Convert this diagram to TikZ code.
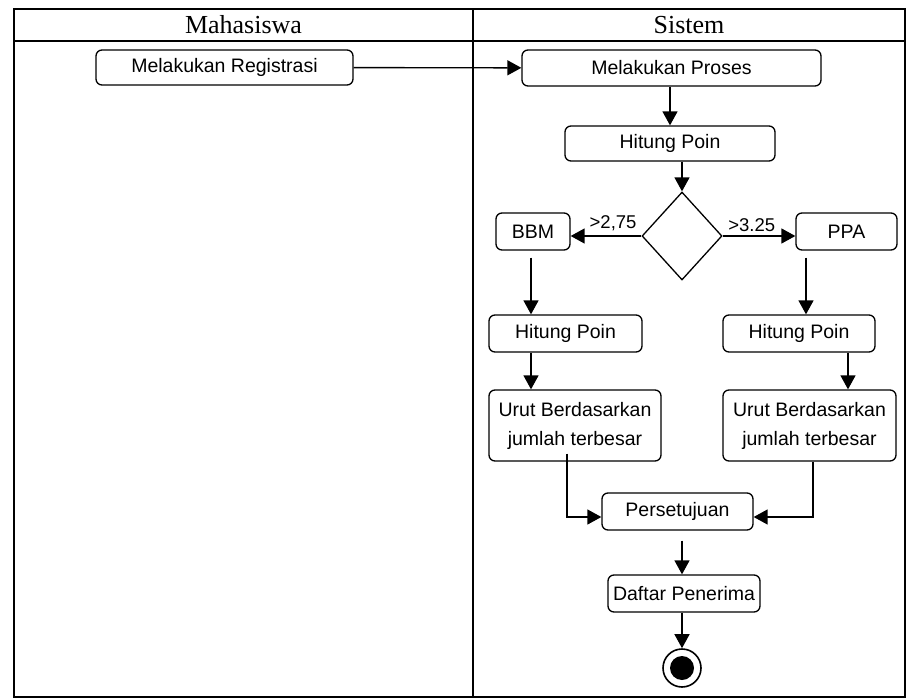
\documentclass[tikz,border=0pt]{standalone}
\usepackage{fontspec}
\setmainfont{Liberation Serif}
\newfontfamily\boxfont{Liberation Sans}
\usetikzlibrary{
    arrows.meta,
    shapes.geometric,
    calc,
    positioning
}

\begin{document}
\begin{tikzpicture}[x=1pt, y=-1pt,
    act/.style={draw, rounded corners=6pt, line width=1.3pt, inner sep=0pt, align=center,
        font=\boxfont\fontsize{19.5}{29}\selectfont},
    dec/.style={draw, diamond, line width=1.3pt, minimum width=80pt, minimum height=88pt, inner sep=0pt},
    endstate/.style={draw, circle, line width=1.6pt, minimum size=38pt, inner sep=0pt,
        path picture={\fill (path picture bounding box.center) circle (12pt);}},
    arr/.style={line width=1.4pt, -{Triangle[length=14pt, width=15pt]}},
    lbl/.style={font=\boxfont\fontsize{18.5}{20}\selectfont, above, inner sep=4pt},
    lane/.style={font=\fontsize{26}{30}\selectfont}]
    \useasboundingbox (0, 0) rectangle (913, 698);
    \draw[line width=2pt]
    (14, 9) rectangle (905, 697)
    (14, 41) -- (905, 41)
    (473, 9) -- (473, 697);
    \node[lane] (mhs) at (243.5, 25) {Mahasiswa};
    \node[lane] (sys) at (689, 25) {Sistem};

    \node[act, minimum width=257pt, minimum height=35pt] (reg) at (224.5, 67.5) {Melakukan Registrasi};
    \node[act, minimum width=299pt, minimum height=36pt] (proses) at (671.5, 68) {Melakukan Proses};
    \node[act, minimum width=210pt, minimum height=35pt] (hitung) at (670, 143.5) {Hitung Poin};
    \node[dec] (cek) at (682, 236) {};
    \node[act, minimum width=74pt, minimum height=37pt] (bbm) at (533, 231.5) {BBM};
    \node[act, minimum width=101pt, minimum height=37pt] (ppa) at (846.5, 231.5) {PPA};
    \node[act, minimum width=153pt, minimum height=37pt] (hitungA) at (565.5, 333.5) {Hitung Poin};
    \node[act, minimum width=152pt, minimum height=37pt] (hitungB) at (799, 333.5) {Hitung Poin};
    \node[act, minimum width=172pt, minimum height=71pt] (urutA) at (575, 425.5) {Urut Berdasarkan\\jumlah terbesar};
    \node[act, minimum width=173pt, minimum height=71pt] (urutB) at (809.5, 425.5) {Urut Berdasarkan\\jumlah terbesar};
    \node[act, minimum width=151pt, minimum height=37pt] (setuju) at (677.5, 511.5) {Persetujuan};
    \node[act, minimum width=152pt, minimum height=37pt] (daftar) at (684, 593.5) {Daftar Penerima};
    \node[endstate] (akhir) at (682, 668) {};

    \draw[arr] (reg) -- (proses);
    \draw[arr] (proses.south -| hitung.north) -- (hitung.north);
    \draw[arr] (hitung.south -| cek.north) -- (cek.north);
    \draw[arr] (cek.west) -- node[lbl, pos=0.4] {>2,75} (cek.west -| bbm.east);
    \draw[arr] (cek.east) -- node[lbl, pos=0.4] {>3.25} (cek.east -| ppa.west);
    \draw[arr] ($(bbm.south)+(-2, 7)$) -- ($(hitungA.north)+(-34.5, 0)$);
    \draw[arr] ($(ppa.south)+(-40.5, 7)$) -- ($(hitungB.north)+(7, 0)$);
    \draw[arr] ($(hitungA.south)+(-34.5, 0)$) -- ($(urutA.north)+(-44, 0)$);
    \draw[arr] ($(hitungB.south)+(49, 0)$) -- ($(urutB.north)+(38.5, 0)$);
    \draw[arr] ($(urutA.south)+(-8, -8)$) |- ($(setuju.west)+(0, 5.5)$);
    \draw[arr] ($(urutB.south)+(3.5, 0)$) |- ($(setuju.east)+(0, 5.5)$);
    \draw[arr] ($(setuju.south)+(4.5, 10)$) -- ($(daftar.north)+(-2, 0)$);
    \draw[arr] (daftar.south -| akhir.north) -- (akhir.north);
\end{tikzpicture}
\end{document}
